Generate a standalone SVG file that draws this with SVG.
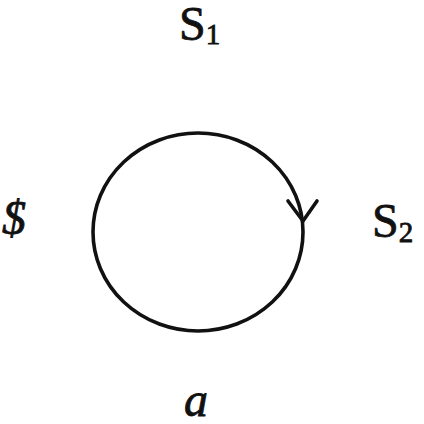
<svg xmlns="http://www.w3.org/2000/svg" width="424" height="424" viewBox="0 0 424 424">
<style>
text{font-family:"Liberation Serif","Times New Roman",serif;fill:#111;stroke:#111;stroke-width:0.8}
.lbl{font-size:48px}
.sub{font-size:29px}
.ln{fill:none;stroke:#111;stroke-width:3.6;stroke-linecap:round;stroke-linejoin:round}
</style>
<rect width="424" height="424" fill="#fff"/>
<g id="connectors">
<ellipse class="ln" cx="198" cy="232" rx="105" ry="99"/>
<path class="ln" d="M288 201 L303 221 L317 201"/>
</g>
<g id="node-s1"><text class="lbl" x="179" y="40">S<tspan class="sub" dy="4">1</tspan></text></g>
<g id="node-s2"><text class="lbl" x="372" y="237">S<tspan class="sub" dy="5">2</tspan></text></g>
<g id="node-s"><text class="lbl" x="2" y="234" font-size="52" font-style="italic">$</text></g>
<g id="label-a"><text class="lbl" x="184" y="416" font-style="italic">a</text></g>
</svg>
